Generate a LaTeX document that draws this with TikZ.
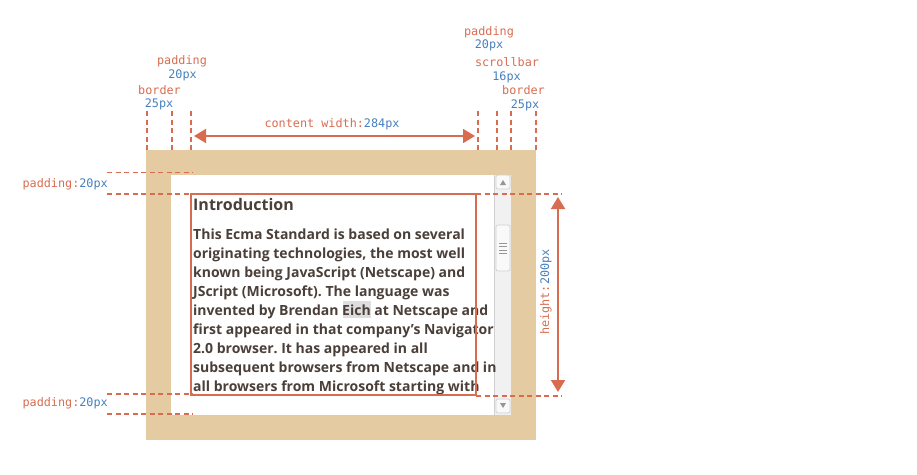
\documentclass[tikz,border=0pt]{standalone}
\usepackage{fontspec}
\setmainfont{Open Sans}
\setmonofont{DejaVu Sans Mono}
\usetikzlibrary{arrows.meta}
\frenchspacing
\definecolor{tanc}{RGB}{229,203,161}
\definecolor{lbl}{RGB}{216,108,80}
\definecolor{num}{RGB}{70,128,190}
\definecolor{txt}{RGB}{74,63,57}
\definecolor{sbtrack}{RGB}{241,241,241}
\definecolor{sbbtn}{RGB}{249,249,249}
\definecolor{sbedge}{RGB}{208,208,208}
\definecolor{sbmark}{RGB}{150,150,150}
\begin{document}
\begin{tikzpicture}[x=1pt,y=-1pt,
  dsh/.style={draw=lbl, line width=1.7pt, dash pattern=on 5pt off 3.5pt},
  lab/.style={font=\ttfamily\fontsize{11.8}{12}\selectfont, text=lbl, inner sep=0pt, text height=8.6pt, text depth=2.4pt},
  nm/.style={lab, text=num},
  dimarrow/.style={draw=lbl, line width=2pt, {Triangle[length=12pt,width=14pt]}-{Triangle[length=12pt,width=14pt]}},
  body/.style={font=\bfseries\fontsize{14}{19}\selectfont, text=txt, inner sep=0pt, anchor=base west},
  sbbox/.style={fill=sbbtn, draw=sbedge, line width=0.7pt, rounded corners=2pt}]
\useasboundingbox (0,0) rectangle (917,474);
% frame
\fill[tanc] (146,150) rectangle (536,440);
\fill[white] (171,175) rectangle (511,415);
% scrollbar
\fill[sbtrack] (494,175) rectangle (511,415);
\draw[sbedge, line width=0.5pt] (494,175) -- (494,415);
\node[sbbox, minimum width=14pt, minimum height=14pt, inner sep=0pt] (up) at (503,182) {};
\node[sbbox, minimum width=14pt, minimum height=14pt, inner sep=0pt] (down) at (503,406) {};
\node[sbbox, minimum width=14pt, minimum height=46pt, inner sep=0pt] (thumb) at (503,248) {};
\fill[sbmark] (500,185) -- (506,185) -- (503,180) -- cycle;
\fill[sbmark] (500,403) -- (506,403) -- (503,408) -- cycle;
\foreach \yy in {243,246.5,250,253.5} \draw[sbmark, line width=0.9pt] (499,\yy) -- (507,\yy);
% highlight
\fill[black!13] (343,301) rectangle (371,318);
% text
\node[body, font=\bfseries\fontsize{16}{19}\selectfont] (intro) at (193,210) {Introduction};
\node[body] (l1) at (193,239) {This Ecma Standard is based on several};
\node[body] (l2) at (193,258) {originating technologies, the most well};
\node[body] (l3) at (193,277) {known being JavaScript (Netscape) and};
\node[body] (l4) at (193,296) {JScript (Microsoft). The language was};
\node[body] (l5) at (193,315) {invented by Brendan Eich at Netscape and};
\node[body] (l6) at (193,334) {first appeared in that company’s Navigator};
\node[body] (l7) at (193,353) {2.0 browser. It has appeared in all};
\node[body] (l8) at (193,372) {subsequent browsers from Netscape and in};
\node[body] (l9) at (193,391) {all browsers from Microsoft starting with};
% content box
\node[draw=lbl, line width=2pt, minimum width=285pt, minimum height=201pt, inner sep=0pt] (content) at (333.5,294.5) {};
% vertical dashed guides
\foreach \xx/\nn in {147/a,172/b,191/c,478/d,497/e,511/f,536/g}{
  \coordinate (t\nn) at (\xx,111);
  \coordinate (b\nn) at (\xx,150);
  \draw[dsh] (t\nn) -- (b\nn);
}
% horizontal dashed guides left
\foreach \yy/\nn in {172.5/a,194/b,394/c,414/d}{
  \coordinate (hl\nn) at (107,\yy);
  \coordinate (hr\nn) at (193,\yy);
  \draw[dsh] (hl\nn) -- (hr\nn);
}
% horizontal dashed guides right
\coordinate (ra1) at (476,194); \coordinate (ra2) at (562,194);
\coordinate (rb1) at (476,396); \coordinate (rb2) at (562,396);
\draw[dsh] (ra1) -- (ra2);
\draw[dsh] (rb1) -- (rb2);
% dimension arrows
\coordinate (cwL) at (194,136); \coordinate (cwR) at (475,136);
\draw[dimarrow] (cwL) -- (cwR);
\coordinate (hT) at (558,197); \coordinate (hB) at (558,392);
\draw[dimarrow] (hT) -- (hB);
% labels
\node[lab] (cw) at (332,124) {content width:\textcolor{num}{284px}};
\node[lab, rotate=90] (hl) at (546,292) {height:\textcolor{num}{200px}};
\node[lab, anchor=east] (pt) at (108,184) {padding:\textcolor{num}{20px}};
\node[lab, anchor=east] (pb) at (108,403) {padding:\textcolor{num}{20px}};
\node[lab] (lp) at (182,61) {padding};
\node[nm] (lpv) at (182.5,75) {20px};
\node[lab] (lb) at (159.5,91) {border};
\node[nm] (lbv) at (159,104) {25px};
\node[lab] (rp) at (489,32) {padding};
\node[nm] (rpv) at (489,45) {20px};
\node[lab] (rs) at (507,63) {scrollbar};
\node[nm] (rsv) at (506.5,77) {16px};
\node[lab] (rb) at (523.5,91) {border};
\node[nm] (rbv) at (525,105) {25px};
\end{tikzpicture}
\end{document}
